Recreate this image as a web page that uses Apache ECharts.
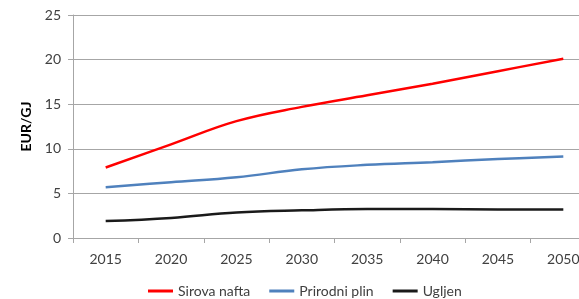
<!DOCTYPE html>
<html>
<head>
<meta charset="utf-8">
<script src="https://cdn.jsdelivr.net/npm/echarts@6/dist/echarts.min.js"></script>
<style>
  html, body { margin: 0; padding: 0; background: #fff; }
  #chart { width: 579px; height: 299px; }
</style>
</head>
<body>
<div id="chart"></div>
<script>
  const years = ['2015', '2020', '2025', '2030', '2035', '2040', '2045', '2050'];
  const nafta = [7.9, 10.5, 13.1, 14.7, 16.0, 17.3, 18.7, 20.1];
  const plin = [5.7, 6.25, 6.8, 7.7, 8.2, 8.5, 8.85, 9.15];
  const ugljen = [1.9, 2.25, 2.85, 3.1, 3.25, 3.25, 3.2, 3.2];

  const chart = echarts.init(document.getElementById('chart'));
  const font = 'Lato';
  const lineSeries = (name, data, color) => ({
    name: name,
    type: 'line',
    data: data,
    smooth: 0.4,
    symbol: 'none',
    lineStyle: { color: color, width: 2.5 },
    itemStyle: { color: color }
  });

  chart.setOption({
    animation: false,
    textStyle: { fontFamily: font },
    // plot runs past the right edge, as in the original
    grid: { left: 73, top: 15, width: 523, bottom: 61, containLabel: false, outerBoundsMode: 'none' },
    legend: {
      bottom: 1,
      left: 148,
      padding: 0,
      icon: 'rect',
      itemWidth: 25,
      itemHeight: 3,
      itemGap: 19,
      textStyle: { fontSize: 14, color: '#404040', fontFamily: font },
      data: ['Sirova nafta', 'Prirodni plin', 'Ugljen']
    },
    xAxis: {
      type: 'category',
      data: years,
      boundaryGap: true,
      axisLine: { lineStyle: { color: '#a6a6a6', width: 1 } },
      axisTick: { show: true, length: 5, lineStyle: { color: '#a6a6a6' } },
      axisLabel: { fontSize: 14, color: '#404040', margin: 14 }
    },
    yAxis: {
      type: 'value',
      min: 0,
      max: 25,
      interval: 5,
      name: 'EUR/GJ',
      nameLocation: 'middle',
      nameGap: 40,
      nameRotate: 90,
      nameTextStyle: { fontSize: 14, fontWeight: 'bold', color: '#000', fontFamily: font },
      axisLine: { show: true, lineStyle: { color: '#a6a6a6', width: 1 } },
      axisTick: { show: true, length: 5, lineStyle: { color: '#a6a6a6' } },
      axisLabel: { fontSize: 14, color: '#404040', margin: 12 },
      splitLine: { lineStyle: { color: '#a6a6a6', width: 1 } }
    },
    series: [
      lineSeries('Sirova nafta', nafta, '#ff0000'),
      lineSeries('Prirodni plin', plin, '#4f81bd'),
      lineSeries('Ugljen', ugljen, '#1a1a1a')
    ]
  });
</script>
</body>
</html>
